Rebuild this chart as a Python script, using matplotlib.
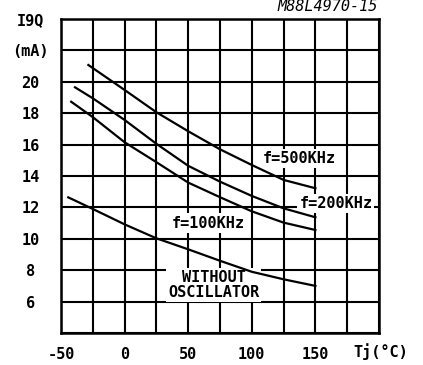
import matplotlib
matplotlib.use("Agg")
import matplotlib.pyplot as plt
from matplotlib.transforms import blended_transform_factory

# Quiescent current vs junction temperature
tj_500 = [-28.5, 0, 25, 50, 75, 100, 125, 150]
iq_500 = [21.07, 19.48, 18.06, 16.85, 15.7, 14.7, 13.75, 13.22]

tj_200 = [-39, -25, 0, 25, 50, 75, 100, 125, 150]
iq_200 = [19.65, 18.95, 17.57, 16.05, 14.65, 13.64, 12.73, 11.94, 11.37]

tj_100 = [-42, -25, 0, 25, 50, 75, 100, 125, 150]
iq_100 = [18.73, 17.75, 16.15, 14.88, 13.58, 12.65, 11.75, 11.03, 10.56]

tj_off = [-44.3, -25, 0, 25, 50, 75, 100, 125, 150]
iq_off = [12.64, 11.9, 10.92, 10.03, 9.33, 8.6, 7.9, 7.42, 7.0]

x_ticks = [-50, -25, 0, 25, 50, 75, 100, 125, 150, 175, 200]
x_labels = ["-50", "", "0", "", "50", "", "100", "", "150", "", ""]
y_ticks = [4, 6, 8, 10, 12, 14, 16, 18, 20, 22, 24]
y_labels = ["", "6", "8", "10", "12", "14", "16", "18", "20", "(mA)", "I9Q"]

FONT = "DejaVu Sans Mono"
FS = 11
FW = "bold"

fig = plt.figure(figsize=(4.23, 3.65), dpi=100)
ax = fig.add_axes([61 / 423, 32 / 365, 318 / 423, 314 / 365])
ax.set_xlim(-50, 200)
ax.set_ylim(4, 24)

ax.set_xticks(x_ticks)
ax.set_xticklabels(x_labels, family=FONT, fontsize=FS, weight=FW)
ax.set_yticks(y_ticks)
ax.set_yticklabels(y_labels, family=FONT, fontsize=FS, weight=FW)
ax.tick_params(length=0)
ax.tick_params(axis="x", pad=10)
ax.tick_params(axis="y", pad=22)
for lab in ax.get_yticklabels():
    lab.set_horizontalalignment("center")

ax.grid(True, color="black", linewidth=1.5)
ax.set_axisbelow(True)
for sp in ax.spines.values():
    sp.set_linewidth(1.8)

for t, i in [(tj_500, iq_500), (tj_200, iq_200), (tj_100, iq_100), (tj_off, iq_off)]:
    ax.plot(t, i, color="black", linewidth=1.6, zorder=3)

box = dict(facecolor="white", edgecolor="none", pad=1.5)
label_kw = dict(family=FONT, fontsize=FS, weight=FW, ha="center", va="center",
                bbox=box, zorder=2.5)
ax.text(137, 15.1, "f=500KHz", **label_kw)
ax.text(166, 12.27, "f=200KHz", **label_kw)
ax.text(65.5, 11.0, "f=100KHz", **label_kw)
ax.text(70, 7.05, "WITHOUT\nOSCILLATOR", linespacing=0.95, **label_kw)

trans = blended_transform_factory(ax.transAxes, fig.transFigure)
ax.text(1.006, 13 / 365, "Tj(°C)", family=FONT, fontsize=FS, weight=FW,
        ha="center", va="center", transform=trans)
ax.text(0.995, 1.015, "M88L4970-15", family=FONT, fontsize=FS, style="italic",
        ha="right", va="bottom", transform=ax.transAxes)

fig.savefig("out.png", dpi=100)
